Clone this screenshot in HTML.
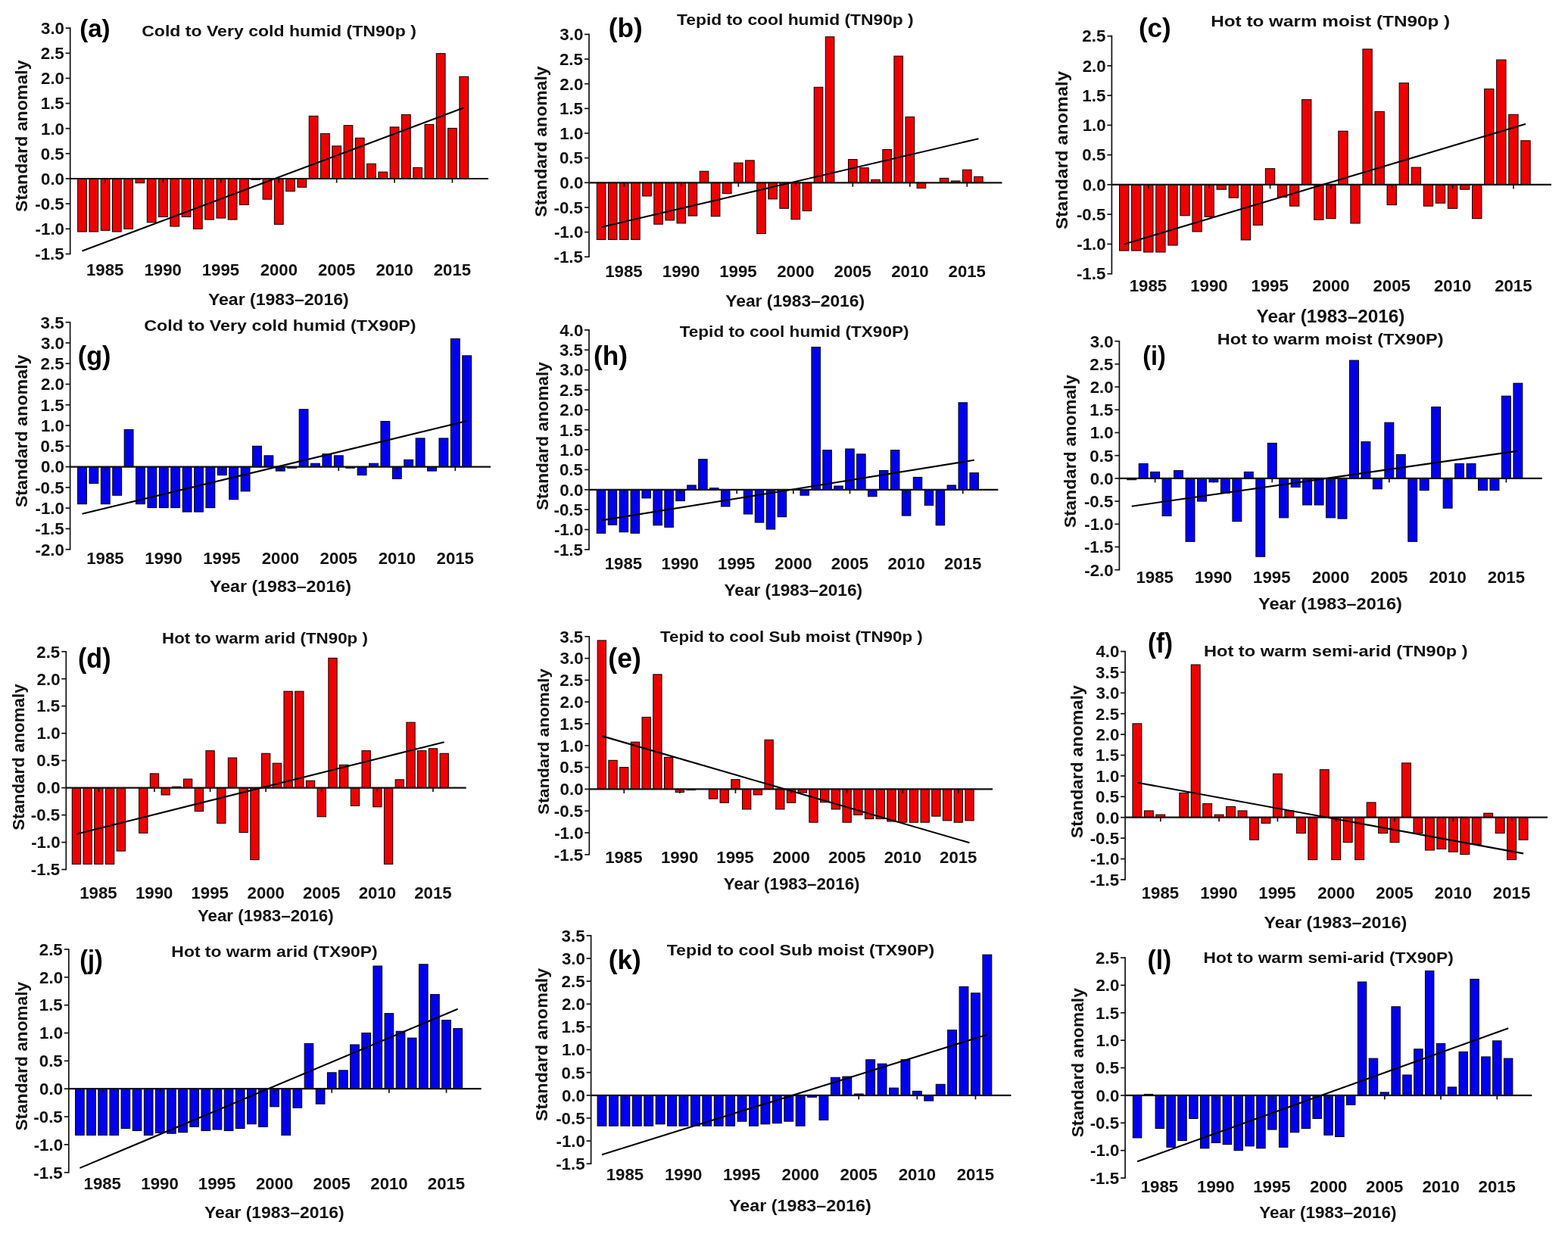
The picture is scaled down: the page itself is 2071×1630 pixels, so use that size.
<!DOCTYPE html>
<html><head><meta charset="utf-8"><title>Standard anomaly bar charts</title>
<style>html,body{margin:0;padding:0;background:#fff;overflow:hidden;}svg{display:block;}</style>
</head><body>
<svg width="2071" height="1630" viewBox="0 0 2071 1630" font-family="'Liberation Sans', Arial, sans-serif"><g fill="#ee0000" stroke="#1a0000" stroke-width="1.1"><rect x="102.66" y="236" width="11.69" height="70.01"/><rect x="117.94" y="236" width="11.69" height="70.01"/><rect x="133.22" y="236" width="11.69" height="68.29"/><rect x="148.5" y="236" width="11.69" height="70.01"/><rect x="163.78" y="236" width="11.69" height="66.3"/><rect x="179.06" y="236" width="11.69" height="5.64"/><rect x="194.34" y="236" width="11.69" height="57.68"/><rect x="209.62" y="236" width="11.69" height="50.39"/><rect x="224.9" y="236" width="11.69" height="62.99"/><rect x="240.18" y="236" width="11.69" height="50.39"/><rect x="255.46" y="236" width="11.69" height="66.3"/><rect x="270.74" y="236" width="11.69" height="54.03"/><rect x="286.02" y="236" width="11.69" height="52.05"/><rect x="301.3" y="236" width="11.69" height="54.03"/><rect x="316.58" y="236" width="11.69" height="34.48"/><rect x="331.86" y="236" width="11.69" height="1.33"/><rect x="347.14" y="236" width="11.69" height="27.18"/><rect x="362.42" y="236" width="11.69" height="60.33"/><rect x="377.7" y="236" width="11.69" height="16.57"/><rect x="392.98" y="236" width="11.69" height="11.27"/><rect x="408.26" y="153.32" width="11.69" height="82.68"/><rect x="423.54" y="176.6" width="11.69" height="59.4"/><rect x="438.82" y="192.91" width="11.69" height="43.09"/><rect x="454.1" y="165.72" width="11.69" height="70.28"/><rect x="469.38" y="182.3" width="11.69" height="53.7"/><rect x="484.66" y="216.38" width="11.69" height="19.62"/><rect x="499.94" y="227.18" width="11.69" height="8.82"/><rect x="515.22" y="167.91" width="11.69" height="68.09"/><rect x="530.5" y="151.53" width="11.69" height="84.47"/><rect x="545.78" y="221.41" width="11.69" height="14.59"/><rect x="561.06" y="164.4" width="11.69" height="71.6"/><rect x="576.34" y="70.71" width="11.69" height="165.29"/><rect x="591.62" y="169.43" width="11.69" height="66.57"/><rect x="606.9" y="101.21" width="11.69" height="134.79"/></g>
<g stroke="#111" stroke-width="1.7" fill="none"><line x1="92.7" y1="36.3" x2="92.7" y2="336.25"/><line x1="86.7" y1="37.1" x2="92.7" y2="37.1"/><line x1="86.7" y1="70.25" x2="92.7" y2="70.25"/><line x1="86.7" y1="103.4" x2="92.7" y2="103.4"/><line x1="86.7" y1="136.55" x2="92.7" y2="136.55"/><line x1="86.7" y1="169.7" x2="92.7" y2="169.7"/><line x1="86.7" y1="202.85" x2="92.7" y2="202.85"/><line x1="86.7" y1="236" x2="92.7" y2="236"/><line x1="86.7" y1="269.15" x2="92.7" y2="269.15"/><line x1="86.7" y1="302.3" x2="92.7" y2="302.3"/><line x1="86.7" y1="335.45" x2="92.7" y2="335.45"/><line x1="139.06" y1="236" x2="139.06" y2="241.5"/><line x1="215.46" y1="236" x2="215.46" y2="241.5"/><line x1="291.86" y1="236" x2="291.86" y2="241.5"/><line x1="368.26" y1="236" x2="368.26" y2="241.5"/><line x1="444.66" y1="236" x2="444.66" y2="241.5"/><line x1="521.06" y1="236" x2="521.06" y2="241.5"/><line x1="597.46" y1="236" x2="597.46" y2="241.5"/></g>
<line x1="92.7" y1="236" x2="645" y2="236" stroke="#111" stroke-width="2.2"/>
<line x1="108.5" y1="331.47" x2="612.74" y2="142.19" stroke="#000" stroke-width="2.1"/>
<g font-weight="bold" fill="#111"><text x="54" y="44.94" font-size="22.3" textLength="31" lengthAdjust="spacingAndGlyphs">3.0</text><text x="53.66" y="78.09" font-size="22.3" textLength="31" lengthAdjust="spacingAndGlyphs">2.5</text><text x="54" y="111.24" font-size="22.3" textLength="31" lengthAdjust="spacingAndGlyphs">2.0</text><text x="53.66" y="144.39" font-size="22.3" textLength="31" lengthAdjust="spacingAndGlyphs">1.5</text><text x="54" y="177.54" font-size="22.3" textLength="31" lengthAdjust="spacingAndGlyphs">1.0</text><text x="53.66" y="210.69" font-size="22.3" textLength="31" lengthAdjust="spacingAndGlyphs">0.5</text><text x="54" y="243.84" font-size="22.3" textLength="31" lengthAdjust="spacingAndGlyphs">0.0</text><text x="46.23" y="276.99" font-size="22.3" textLength="38.43" lengthAdjust="spacingAndGlyphs">-0.5</text><text x="46.58" y="310.14" font-size="22.3" textLength="38.43" lengthAdjust="spacingAndGlyphs">-1.0</text><text x="46.23" y="343.29" font-size="22.3" textLength="38.43" lengthAdjust="spacingAndGlyphs">-1.5</text><text x="113.95" y="364.1" font-size="22.2" textLength="49.39" lengthAdjust="spacingAndGlyphs">1985</text><text x="190.52" y="364.1" font-size="22.2" textLength="49.39" lengthAdjust="spacingAndGlyphs">1990</text><text x="266.75" y="364.1" font-size="22.2" textLength="49.39" lengthAdjust="spacingAndGlyphs">1995</text><text x="343.67" y="364.1" font-size="22.2" textLength="49.39" lengthAdjust="spacingAndGlyphs">2000</text><text x="419.9" y="364.1" font-size="22.2" textLength="49.39" lengthAdjust="spacingAndGlyphs">2005</text><text x="496.47" y="364.1" font-size="22.2" textLength="49.39" lengthAdjust="spacingAndGlyphs">2010</text><text x="572.7" y="364.1" font-size="22.2" textLength="49.39" lengthAdjust="spacingAndGlyphs">2015</text><text x="274.94" y="403.2" font-size="22.1" textLength="185.79" lengthAdjust="spacingAndGlyphs">Year (1983–2016)</text><text x="187.18" y="47.6" font-size="20.8" textLength="362.65" lengthAdjust="spacingAndGlyphs">Cold to Very cold humid (TN90p )</text><text x="105.15" y="48.9" font-size="33.36" textLength="40.45" lengthAdjust="spacingAndGlyphs" fill="#000">(a)</text></g>
<text transform="translate(36.3 279.96) rotate(-90)" x="0" y="0" font-size="21.92" font-weight="bold" fill="#111" textLength="200.51" lengthAdjust="spacingAndGlyphs">Standard anomaly</text>
<g fill="#ee0000" stroke="#1a0000" stroke-width="1.1"><rect x="788.32" y="241.3" width="11.55" height="75.09"/><rect x="803.42" y="241.3" width="11.55" height="75.09"/><rect x="818.52" y="241.3" width="11.55" height="75.09"/><rect x="833.62" y="241.3" width="11.55" height="75.09"/><rect x="848.72" y="241.3" width="11.55" height="17.63"/><rect x="863.82" y="241.3" width="11.55" height="54.85"/><rect x="878.92" y="241.3" width="11.55" height="49.63"/><rect x="894.02" y="241.3" width="11.55" height="53.55"/><rect x="909.12" y="241.3" width="11.55" height="43.75"/><rect x="924.22" y="226.28" width="11.55" height="15.02"/><rect x="939.32" y="241.3" width="11.55" height="44.4"/><rect x="954.42" y="241.3" width="11.55" height="14.37"/><rect x="969.52" y="215.18" width="11.55" height="26.12"/><rect x="984.62" y="211.92" width="11.55" height="29.38"/><rect x="999.72" y="241.3" width="11.55" height="67.26"/><rect x="1014.82" y="241.3" width="11.55" height="21.55"/><rect x="1029.92" y="241.3" width="11.55" height="33.96"/><rect x="1045.02" y="241.3" width="11.55" height="48.32"/><rect x="1060.12" y="241.3" width="11.55" height="37.22"/><rect x="1075.22" y="115.27" width="11.55" height="126.03"/><rect x="1090.32" y="48.67" width="11.55" height="192.63"/><rect x="1120.52" y="210.61" width="11.55" height="30.69"/><rect x="1135.62" y="221.71" width="11.55" height="19.59"/><rect x="1150.72" y="237.38" width="11.55" height="3.92"/><rect x="1165.82" y="197.55" width="11.55" height="43.75"/><rect x="1180.92" y="74.13" width="11.55" height="167.17"/><rect x="1196.02" y="154.45" width="11.55" height="86.85"/><rect x="1211.12" y="241.3" width="11.55" height="7.18"/><rect x="1241.32" y="235.42" width="11.55" height="5.88"/><rect x="1256.42" y="239.01" width="11.55" height="2.29"/><rect x="1271.52" y="224.32" width="11.55" height="16.98"/><rect x="1286.62" y="233.46" width="11.55" height="7.84"/></g>
<g stroke="#111" stroke-width="1.7" fill="none"><line x1="778" y1="44.6" x2="778" y2="340.05"/><line x1="772" y1="45.4" x2="778" y2="45.4"/><line x1="772" y1="78.05" x2="778" y2="78.05"/><line x1="772" y1="110.7" x2="778" y2="110.7"/><line x1="772" y1="143.35" x2="778" y2="143.35"/><line x1="772" y1="176" x2="778" y2="176"/><line x1="772" y1="208.65" x2="778" y2="208.65"/><line x1="772" y1="241.3" x2="778" y2="241.3"/><line x1="772" y1="273.95" x2="778" y2="273.95"/><line x1="772" y1="306.6" x2="778" y2="306.6"/><line x1="772" y1="339.25" x2="778" y2="339.25"/><line x1="824.3" y1="241.3" x2="824.3" y2="246.8"/><line x1="899.8" y1="241.3" x2="899.8" y2="246.8"/><line x1="975.3" y1="241.3" x2="975.3" y2="246.8"/><line x1="1050.8" y1="241.3" x2="1050.8" y2="246.8"/><line x1="1126.3" y1="241.3" x2="1126.3" y2="246.8"/><line x1="1201.8" y1="241.3" x2="1201.8" y2="246.8"/><line x1="1277.3" y1="241.3" x2="1277.3" y2="246.8"/></g>
<line x1="778" y1="241.3" x2="1323.5" y2="241.3" stroke="#111" stroke-width="2.2"/>
<line x1="794.1" y1="300.07" x2="1292.4" y2="183.18" stroke="#000" stroke-width="2.1"/>
<g font-weight="bold" fill="#111"><text x="739.3" y="53.24" font-size="22.3" textLength="31" lengthAdjust="spacingAndGlyphs">3.0</text><text x="738.96" y="85.89" font-size="22.3" textLength="31" lengthAdjust="spacingAndGlyphs">2.5</text><text x="739.3" y="118.54" font-size="22.3" textLength="31" lengthAdjust="spacingAndGlyphs">2.0</text><text x="738.96" y="151.19" font-size="22.3" textLength="31" lengthAdjust="spacingAndGlyphs">1.5</text><text x="739.3" y="183.84" font-size="22.3" textLength="31" lengthAdjust="spacingAndGlyphs">1.0</text><text x="738.96" y="216.49" font-size="22.3" textLength="31" lengthAdjust="spacingAndGlyphs">0.5</text><text x="739.3" y="249.14" font-size="22.3" textLength="31" lengthAdjust="spacingAndGlyphs">0.0</text><text x="731.53" y="281.79" font-size="22.3" textLength="38.43" lengthAdjust="spacingAndGlyphs">-0.5</text><text x="731.88" y="314.44" font-size="22.3" textLength="38.43" lengthAdjust="spacingAndGlyphs">-1.0</text><text x="731.53" y="347.09" font-size="22.3" textLength="38.43" lengthAdjust="spacingAndGlyphs">-1.5</text><text x="799.19" y="365.6" font-size="22.2" textLength="49.39" lengthAdjust="spacingAndGlyphs">1985</text><text x="874.86" y="365.6" font-size="22.2" textLength="49.39" lengthAdjust="spacingAndGlyphs">1990</text><text x="950.19" y="365.6" font-size="22.2" textLength="49.39" lengthAdjust="spacingAndGlyphs">1995</text><text x="1026.21" y="365.6" font-size="22.2" textLength="49.39" lengthAdjust="spacingAndGlyphs">2000</text><text x="1101.54" y="365.6" font-size="22.2" textLength="49.39" lengthAdjust="spacingAndGlyphs">2005</text><text x="1177.21" y="365.6" font-size="22.2" textLength="49.39" lengthAdjust="spacingAndGlyphs">2010</text><text x="1252.54" y="365.6" font-size="22.2" textLength="49.39" lengthAdjust="spacingAndGlyphs">2015</text><text x="958.34" y="404.8" font-size="21.85" textLength="183.68" lengthAdjust="spacingAndGlyphs">Year (1983–2016)</text><text x="894" y="33.2" font-size="20.8" textLength="312.72" lengthAdjust="spacingAndGlyphs">Tepid to cool humid (TN90p )</text><text x="803.75" y="49.03" font-size="34.62" textLength="44.92" lengthAdjust="spacingAndGlyphs" fill="#000">(b)</text></g>
<text transform="translate(722.4 286.66) rotate(-90)" x="0" y="0" font-size="21.78" font-weight="bold" fill="#111" textLength="199.21" lengthAdjust="spacingAndGlyphs">Standard anomaly</text>
<g fill="#ee0000" stroke="#1a0000" stroke-width="1.1"><rect x="1478.55" y="243.9" width="12.29" height="87.14"/><rect x="1494.62" y="243.9" width="12.29" height="87.14"/><rect x="1510.69" y="243.9" width="12.29" height="89.1"/><rect x="1526.76" y="243.9" width="12.29" height="89.1"/><rect x="1542.83" y="243.9" width="12.29" height="80.07"/><rect x="1558.9" y="243.9" width="12.29" height="40.82"/><rect x="1574.97" y="243.9" width="12.29" height="62.02"/><rect x="1591.04" y="243.9" width="12.29" height="42.39"/><rect x="1607.11" y="243.9" width="12.29" height="6.28"/><rect x="1623.18" y="243.9" width="12.29" height="17.27"/><rect x="1639.25" y="243.9" width="12.29" height="73.01"/><rect x="1655.32" y="243.9" width="12.29" height="53.38"/><rect x="1671.39" y="222.71" width="12.29" height="21.19"/><rect x="1687.46" y="243.9" width="12.29" height="16.48"/><rect x="1703.53" y="243.9" width="12.29" height="28.26"/><rect x="1719.6" y="131.65" width="12.29" height="112.25"/><rect x="1735.67" y="243.9" width="12.29" height="46.32"/><rect x="1751.74" y="243.9" width="12.29" height="44.74"/><rect x="1767.81" y="173.25" width="12.29" height="70.65"/><rect x="1783.88" y="243.9" width="12.29" height="51.03"/><rect x="1799.95" y="64.92" width="12.29" height="178.98"/><rect x="1816.02" y="147.35" width="12.29" height="96.55"/><rect x="1832.09" y="243.9" width="12.29" height="26.69"/><rect x="1848.16" y="109.67" width="12.29" height="134.23"/><rect x="1864.23" y="221.14" width="12.29" height="22.76"/><rect x="1880.3" y="243.9" width="12.29" height="28.26"/><rect x="1896.37" y="243.9" width="12.29" height="24.34"/><rect x="1912.44" y="243.9" width="12.29" height="31.4"/><rect x="1928.51" y="243.9" width="12.29" height="6.28"/><rect x="1944.58" y="243.9" width="12.29" height="44.74"/><rect x="1960.65" y="117.52" width="12.29" height="126.39"/><rect x="1976.72" y="79.05" width="12.29" height="164.85"/><rect x="1992.79" y="151.27" width="12.29" height="92.63"/><rect x="2008.86" y="185.81" width="12.29" height="58.09"/></g>
<g stroke="#111" stroke-width="1.7" fill="none"><line x1="1468.4" y1="46.85" x2="1468.4" y2="362.45"/><line x1="1462.4" y1="47.65" x2="1468.4" y2="47.65"/><line x1="1462.4" y1="86.9" x2="1468.4" y2="86.9"/><line x1="1462.4" y1="126.15" x2="1468.4" y2="126.15"/><line x1="1462.4" y1="165.4" x2="1468.4" y2="165.4"/><line x1="1462.4" y1="204.65" x2="1468.4" y2="204.65"/><line x1="1462.4" y1="243.9" x2="1468.4" y2="243.9"/><line x1="1462.4" y1="283.15" x2="1468.4" y2="283.15"/><line x1="1462.4" y1="322.4" x2="1468.4" y2="322.4"/><line x1="1462.4" y1="361.65" x2="1468.4" y2="361.65"/><line x1="1516.84" y1="243.9" x2="1516.84" y2="249.4"/><line x1="1597.19" y1="243.9" x2="1597.19" y2="249.4"/><line x1="1677.54" y1="243.9" x2="1677.54" y2="249.4"/><line x1="1757.89" y1="243.9" x2="1757.89" y2="249.4"/><line x1="1838.24" y1="243.9" x2="1838.24" y2="249.4"/><line x1="1918.59" y1="243.9" x2="1918.59" y2="249.4"/><line x1="1998.94" y1="243.9" x2="1998.94" y2="249.4"/></g>
<line x1="1468.4" y1="243.9" x2="2049" y2="243.9" stroke="#111" stroke-width="2.2"/>
<line x1="1484.7" y1="322.4" x2="2015.01" y2="163.83" stroke="#000" stroke-width="2.1"/>
<g font-weight="bold" fill="#111"><text x="1429.36" y="55.49" font-size="22.3" textLength="31" lengthAdjust="spacingAndGlyphs">2.5</text><text x="1429.7" y="94.74" font-size="22.3" textLength="31" lengthAdjust="spacingAndGlyphs">2.0</text><text x="1429.36" y="133.99" font-size="22.3" textLength="31" lengthAdjust="spacingAndGlyphs">1.5</text><text x="1429.7" y="173.24" font-size="22.3" textLength="31" lengthAdjust="spacingAndGlyphs">1.0</text><text x="1429.36" y="212.49" font-size="22.3" textLength="31" lengthAdjust="spacingAndGlyphs">0.5</text><text x="1429.7" y="251.74" font-size="22.3" textLength="31" lengthAdjust="spacingAndGlyphs">0.0</text><text x="1421.93" y="290.99" font-size="22.3" textLength="38.43" lengthAdjust="spacingAndGlyphs">-0.5</text><text x="1422.28" y="330.24" font-size="22.3" textLength="38.43" lengthAdjust="spacingAndGlyphs">-1.0</text><text x="1421.93" y="369.49" font-size="22.3" textLength="38.43" lengthAdjust="spacingAndGlyphs">-1.5</text><text x="1491.73" y="385.4" font-size="22.2" textLength="49.39" lengthAdjust="spacingAndGlyphs">1985</text><text x="1572.25" y="385.4" font-size="22.2" textLength="49.39" lengthAdjust="spacingAndGlyphs">1990</text><text x="1652.43" y="385.4" font-size="22.2" textLength="49.39" lengthAdjust="spacingAndGlyphs">1995</text><text x="1733.3" y="385.4" font-size="22.2" textLength="49.39" lengthAdjust="spacingAndGlyphs">2000</text><text x="1813.48" y="385.4" font-size="22.2" textLength="49.39" lengthAdjust="spacingAndGlyphs">2005</text><text x="1894" y="385.4" font-size="22.2" textLength="49.39" lengthAdjust="spacingAndGlyphs">2010</text><text x="1974.18" y="385.4" font-size="22.2" textLength="49.39" lengthAdjust="spacingAndGlyphs">2015</text><text x="1659.62" y="426.4" font-size="23.28" textLength="195.76" lengthAdjust="spacingAndGlyphs">Year (1983–2016)</text><text x="1599.18" y="35" font-size="20.8" textLength="316" lengthAdjust="spacingAndGlyphs">Hot to warm moist (TN90p )</text><text x="1503.96" y="49.03" font-size="34.62" textLength="42.81" lengthAdjust="spacingAndGlyphs" fill="#000">(c)</text></g>
<text transform="translate(1409.51 303.08) rotate(-90)" x="0" y="0" font-size="22.89" font-weight="bold" fill="#111" textLength="209.32" lengthAdjust="spacingAndGlyphs">Standard anomaly</text>
<g fill="#0000ee" stroke="#00001a" stroke-width="1.1"><rect x="102.61" y="616.6" width="11.78" height="49.1"/><rect x="118.01" y="616.6" width="11.78" height="21.82"/><rect x="133.41" y="616.6" width="11.78" height="49.1"/><rect x="148.81" y="616.6" width="11.78" height="37.64"/><rect x="164.21" y="567.5" width="11.78" height="49.1"/><rect x="179.61" y="616.6" width="11.78" height="49.1"/><rect x="195.01" y="616.6" width="11.78" height="54"/><rect x="210.41" y="616.6" width="11.78" height="54"/><rect x="225.81" y="616.6" width="11.78" height="54"/><rect x="241.21" y="616.6" width="11.78" height="59.46"/><rect x="256.61" y="616.6" width="11.78" height="59.46"/><rect x="272.01" y="616.6" width="11.78" height="54"/><rect x="287.41" y="616.6" width="11.78" height="10.91"/><rect x="302.81" y="616.6" width="11.78" height="43.09"/><rect x="318.21" y="616.6" width="11.78" height="32.18"/><rect x="333.61" y="589.33" width="11.78" height="27.27"/><rect x="349.01" y="601.87" width="11.78" height="14.73"/><rect x="364.41" y="616.6" width="11.78" height="5.46"/><rect x="379.81" y="616.6" width="11.78" height="1.64"/><rect x="395.21" y="540.78" width="11.78" height="75.82"/><rect x="410.61" y="612.24" width="11.78" height="4.36"/><rect x="426.01" y="599.69" width="11.78" height="16.91"/><rect x="441.41" y="601.87" width="11.78" height="14.73"/><rect x="456.81" y="616.6" width="11.78" height="1.64"/><rect x="472.21" y="616.6" width="11.78" height="10.91"/><rect x="487.61" y="612.24" width="11.78" height="4.36"/><rect x="503.01" y="556.6" width="11.78" height="60"/><rect x="518.41" y="616.6" width="11.78" height="15.82"/><rect x="533.81" y="607.33" width="11.78" height="9.27"/><rect x="549.21" y="578.96" width="11.78" height="37.64"/><rect x="564.61" y="616.6" width="11.78" height="5.46"/><rect x="580.01" y="578.96" width="11.78" height="37.64"/><rect x="595.41" y="447.5" width="11.78" height="169.11"/><rect x="610.81" y="469.86" width="11.78" height="146.74"/></g>
<g stroke="#111" stroke-width="1.7" fill="none"><line x1="92.6" y1="424.88" x2="92.6" y2="726.5"/><line x1="86.6" y1="425.68" x2="92.6" y2="425.68"/><line x1="86.6" y1="452.95" x2="92.6" y2="452.95"/><line x1="86.6" y1="480.23" x2="92.6" y2="480.23"/><line x1="86.6" y1="507.5" x2="92.6" y2="507.5"/><line x1="86.6" y1="534.78" x2="92.6" y2="534.78"/><line x1="86.6" y1="562.05" x2="92.6" y2="562.05"/><line x1="86.6" y1="589.33" x2="92.6" y2="589.33"/><line x1="86.6" y1="616.6" x2="92.6" y2="616.6"/><line x1="86.6" y1="643.88" x2="92.6" y2="643.88"/><line x1="86.6" y1="671.15" x2="92.6" y2="671.15"/><line x1="86.6" y1="698.42" x2="92.6" y2="698.42"/><line x1="86.6" y1="725.7" x2="92.6" y2="725.7"/><line x1="139.3" y1="616.6" x2="139.3" y2="622.1"/><line x1="216.3" y1="616.6" x2="216.3" y2="622.1"/><line x1="293.3" y1="616.6" x2="293.3" y2="622.1"/><line x1="370.3" y1="616.6" x2="370.3" y2="622.1"/><line x1="447.3" y1="616.6" x2="447.3" y2="622.1"/><line x1="524.3" y1="616.6" x2="524.3" y2="622.1"/><line x1="601.3" y1="616.6" x2="601.3" y2="622.1"/></g>
<line x1="92.6" y1="616.6" x2="648" y2="616.6" stroke="#111" stroke-width="2.2"/>
<line x1="108.5" y1="678.79" x2="616.7" y2="556.05" stroke="#000" stroke-width="2.1"/>
<g font-weight="bold" fill="#111"><text x="53.56" y="433.51" font-size="22.3" textLength="31" lengthAdjust="spacingAndGlyphs">3.5</text><text x="53.9" y="460.79" font-size="22.3" textLength="31" lengthAdjust="spacingAndGlyphs">3.0</text><text x="53.56" y="488.06" font-size="22.3" textLength="31" lengthAdjust="spacingAndGlyphs">2.5</text><text x="53.9" y="515.34" font-size="22.3" textLength="31" lengthAdjust="spacingAndGlyphs">2.0</text><text x="53.56" y="542.61" font-size="22.3" textLength="31" lengthAdjust="spacingAndGlyphs">1.5</text><text x="53.9" y="569.89" font-size="22.3" textLength="31" lengthAdjust="spacingAndGlyphs">1.0</text><text x="53.56" y="597.16" font-size="22.3" textLength="31" lengthAdjust="spacingAndGlyphs">0.5</text><text x="53.9" y="624.44" font-size="22.3" textLength="31" lengthAdjust="spacingAndGlyphs">0.0</text><text x="46.13" y="651.71" font-size="22.3" textLength="38.43" lengthAdjust="spacingAndGlyphs">-0.5</text><text x="46.48" y="678.99" font-size="22.3" textLength="38.43" lengthAdjust="spacingAndGlyphs">-1.0</text><text x="46.13" y="706.26" font-size="22.3" textLength="38.43" lengthAdjust="spacingAndGlyphs">-1.5</text><text x="46.48" y="733.54" font-size="22.3" textLength="38.43" lengthAdjust="spacingAndGlyphs">-2.0</text><text x="114.19" y="744.8" font-size="22.2" textLength="49.39" lengthAdjust="spacingAndGlyphs">1985</text><text x="191.36" y="744.8" font-size="22.2" textLength="49.39" lengthAdjust="spacingAndGlyphs">1990</text><text x="268.19" y="744.8" font-size="22.2" textLength="49.39" lengthAdjust="spacingAndGlyphs">1995</text><text x="345.71" y="744.8" font-size="22.2" textLength="49.39" lengthAdjust="spacingAndGlyphs">2000</text><text x="422.54" y="744.8" font-size="22.2" textLength="49.39" lengthAdjust="spacingAndGlyphs">2005</text><text x="499.71" y="744.8" font-size="22.2" textLength="49.39" lengthAdjust="spacingAndGlyphs">2010</text><text x="576.54" y="744.8" font-size="22.2" textLength="49.39" lengthAdjust="spacingAndGlyphs">2015</text><text x="276.94" y="781.8" font-size="22.24" textLength="187" lengthAdjust="spacingAndGlyphs">Year (1983–2016)</text><text x="190.27" y="437.2" font-size="20.8" textLength="359.37" lengthAdjust="spacingAndGlyphs">Cold to Very cold humid (TX90P)</text><text x="102.79" y="481.73" font-size="34.62" textLength="43.74" lengthAdjust="spacingAndGlyphs" fill="#000">(g)</text></g>
<text transform="translate(36.41 670.26) rotate(-90)" x="0" y="0" font-size="22.07" font-weight="bold" fill="#111" textLength="201.82" lengthAdjust="spacingAndGlyphs">Standard anomaly</text>
<g fill="#0000ee" stroke="#00001a" stroke-width="1.1"><rect x="788.29" y="646.8" width="11.42" height="57.48"/><rect x="803.22" y="646.8" width="11.42" height="46.4"/><rect x="818.15" y="646.8" width="11.42" height="55.89"/><rect x="833.08" y="646.8" width="11.42" height="57.48"/><rect x="848.01" y="646.8" width="11.42" height="11.07"/><rect x="862.94" y="646.8" width="11.42" height="46.93"/><rect x="877.87" y="646.8" width="11.42" height="49.57"/><rect x="892.8" y="646.8" width="11.42" height="14.76"/><rect x="907.73" y="641" width="11.42" height="5.8"/><rect x="922.66" y="606.73" width="11.42" height="40.07"/><rect x="937.59" y="644.69" width="11.42" height="2.11"/><rect x="952.52" y="646.8" width="11.42" height="22.15"/><rect x="982.38" y="646.8" width="11.42" height="32.17"/><rect x="997.31" y="646.8" width="11.42" height="43.24"/><rect x="1012.24" y="646.8" width="11.42" height="52.2"/><rect x="1027.17" y="646.8" width="11.42" height="35.86"/><rect x="1057.03" y="646.8" width="11.42" height="7.38"/><rect x="1071.96" y="458.55" width="11.42" height="188.25"/><rect x="1086.89" y="594.6" width="11.42" height="52.2"/><rect x="1101.82" y="642.05" width="11.42" height="4.75"/><rect x="1116.75" y="593.02" width="11.42" height="53.78"/><rect x="1131.68" y="599.87" width="11.42" height="46.93"/><rect x="1146.61" y="646.8" width="11.42" height="8.96"/><rect x="1161.54" y="621.49" width="11.42" height="25.31"/><rect x="1176.47" y="594.6" width="11.42" height="52.2"/><rect x="1191.4" y="646.8" width="11.42" height="34.27"/><rect x="1206.33" y="630.45" width="11.42" height="16.35"/><rect x="1221.26" y="646.8" width="11.42" height="20.56"/><rect x="1236.19" y="646.8" width="11.42" height="46.93"/><rect x="1251.12" y="641" width="11.42" height="5.8"/><rect x="1266.05" y="531.85" width="11.42" height="114.95"/><rect x="1280.98" y="624.65" width="11.42" height="22.15"/></g>
<g stroke="#111" stroke-width="1.7" fill="none"><line x1="778" y1="435.08" x2="778" y2="726.69"/><line x1="772" y1="435.88" x2="778" y2="435.88"/><line x1="772" y1="462.25" x2="778" y2="462.25"/><line x1="772" y1="488.61" x2="778" y2="488.61"/><line x1="772" y1="514.97" x2="778" y2="514.97"/><line x1="772" y1="541.34" x2="778" y2="541.34"/><line x1="772" y1="567.7" x2="778" y2="567.7"/><line x1="772" y1="594.07" x2="778" y2="594.07"/><line x1="772" y1="620.43" x2="778" y2="620.43"/><line x1="772" y1="646.8" x2="778" y2="646.8"/><line x1="772" y1="673.16" x2="778" y2="673.16"/><line x1="772" y1="699.53" x2="778" y2="699.53"/><line x1="772" y1="725.89" x2="778" y2="725.89"/><line x1="823.86" y1="646.8" x2="823.86" y2="652.3"/><line x1="898.51" y1="646.8" x2="898.51" y2="652.3"/><line x1="973.16" y1="646.8" x2="973.16" y2="652.3"/><line x1="1047.81" y1="646.8" x2="1047.81" y2="652.3"/><line x1="1122.46" y1="646.8" x2="1122.46" y2="652.3"/><line x1="1197.11" y1="646.8" x2="1197.11" y2="652.3"/><line x1="1271.76" y1="646.8" x2="1271.76" y2="652.3"/></g>
<line x1="778" y1="646.8" x2="1318.3" y2="646.8" stroke="#111" stroke-width="2.2"/>
<line x1="794" y1="687.4" x2="1286.69" y2="607.78" stroke="#000" stroke-width="2.1"/>
<g font-weight="bold" fill="#111"><text x="739.3" y="443.72" font-size="22.3" textLength="31" lengthAdjust="spacingAndGlyphs">4.0</text><text x="738.96" y="470.08" font-size="22.3" textLength="31" lengthAdjust="spacingAndGlyphs">3.5</text><text x="739.3" y="496.45" font-size="22.3" textLength="31" lengthAdjust="spacingAndGlyphs">3.0</text><text x="738.96" y="522.81" font-size="22.3" textLength="31" lengthAdjust="spacingAndGlyphs">2.5</text><text x="739.3" y="549.18" font-size="22.3" textLength="31" lengthAdjust="spacingAndGlyphs">2.0</text><text x="738.96" y="575.54" font-size="22.3" textLength="31" lengthAdjust="spacingAndGlyphs">1.5</text><text x="739.3" y="601.91" font-size="22.3" textLength="31" lengthAdjust="spacingAndGlyphs">1.0</text><text x="738.96" y="628.27" font-size="22.3" textLength="31" lengthAdjust="spacingAndGlyphs">0.5</text><text x="739.3" y="654.64" font-size="22.3" textLength="31" lengthAdjust="spacingAndGlyphs">0.0</text><text x="731.53" y="681" font-size="22.3" textLength="38.43" lengthAdjust="spacingAndGlyphs">-0.5</text><text x="731.88" y="707.37" font-size="22.3" textLength="38.43" lengthAdjust="spacingAndGlyphs">-1.0</text><text x="731.53" y="733.73" font-size="22.3" textLength="38.43" lengthAdjust="spacingAndGlyphs">-1.5</text><text x="798.75" y="752" font-size="22.2" textLength="49.39" lengthAdjust="spacingAndGlyphs">1985</text><text x="873.57" y="752" font-size="22.2" textLength="49.39" lengthAdjust="spacingAndGlyphs">1990</text><text x="948.05" y="752" font-size="22.2" textLength="49.39" lengthAdjust="spacingAndGlyphs">1995</text><text x="1023.22" y="752" font-size="22.2" textLength="49.39" lengthAdjust="spacingAndGlyphs">2000</text><text x="1097.7" y="752" font-size="22.2" textLength="49.39" lengthAdjust="spacingAndGlyphs">2005</text><text x="1172.52" y="752" font-size="22.2" textLength="49.39" lengthAdjust="spacingAndGlyphs">2010</text><text x="1247" y="752" font-size="22.2" textLength="49.39" lengthAdjust="spacingAndGlyphs">2015</text><text x="956.45" y="787.3" font-size="21.73" textLength="182.67" lengthAdjust="spacingAndGlyphs">Year (1983–2016)</text><text x="897.7" y="444.5" font-size="20.8" textLength="302.81" lengthAdjust="spacingAndGlyphs">Tepid to cool humid (TX90P)</text><text x="783.95" y="481.73" font-size="34.62" textLength="44.92" lengthAdjust="spacingAndGlyphs" fill="#000">(h)</text></g>
<text transform="translate(723.74 674.05) rotate(-90)" x="0" y="0" font-size="21.43" font-weight="bold" fill="#111" textLength="196.01" lengthAdjust="spacingAndGlyphs">Standard anomaly</text>
<g fill="#0000ee" stroke="#00001a" stroke-width="1.1"><rect x="1488.79" y="631.9" width="11.83" height="1.81"/><rect x="1504.25" y="612.57" width="11.83" height="19.33"/><rect x="1519.71" y="623.44" width="11.83" height="8.46"/><rect x="1535.17" y="631.9" width="11.83" height="49.53"/><rect x="1550.63" y="621.63" width="11.83" height="10.27"/><rect x="1566.09" y="631.9" width="11.83" height="83.35"/><rect x="1581.55" y="631.9" width="11.83" height="30.2"/><rect x="1597.01" y="631.9" width="11.83" height="4.83"/><rect x="1612.47" y="631.9" width="11.83" height="19.33"/><rect x="1627.93" y="631.9" width="11.83" height="56.78"/><rect x="1643.39" y="623.44" width="11.83" height="8.46"/><rect x="1658.85" y="631.9" width="11.83" height="103.28"/><rect x="1674.31" y="585.39" width="11.83" height="46.51"/><rect x="1689.77" y="631.9" width="11.83" height="51.94"/><rect x="1705.23" y="631.9" width="11.83" height="11.48"/><rect x="1720.69" y="631.9" width="11.83" height="35.03"/><rect x="1736.15" y="631.9" width="11.83" height="35.03"/><rect x="1751.61" y="631.9" width="11.83" height="51.94"/><rect x="1767.07" y="631.9" width="11.83" height="53.15"/><rect x="1782.53" y="476.07" width="11.83" height="155.83"/><rect x="1797.99" y="583.58" width="11.83" height="48.32"/><rect x="1813.45" y="631.9" width="11.83" height="13.89"/><rect x="1828.91" y="558.21" width="11.83" height="73.69"/><rect x="1844.37" y="600.49" width="11.83" height="31.41"/><rect x="1859.83" y="631.9" width="11.83" height="83.35"/><rect x="1875.29" y="631.9" width="11.83" height="15.7"/><rect x="1890.75" y="537.68" width="11.83" height="94.22"/><rect x="1906.21" y="631.9" width="11.83" height="39.26"/><rect x="1921.67" y="612.57" width="11.83" height="19.33"/><rect x="1937.13" y="612.57" width="11.83" height="19.33"/><rect x="1952.59" y="631.9" width="11.83" height="15.7"/><rect x="1968.05" y="631.9" width="11.83" height="15.7"/><rect x="1983.51" y="523.18" width="11.83" height="108.72"/><rect x="1998.97" y="506.27" width="11.83" height="125.63"/></g>
<g stroke="#111" stroke-width="1.7" fill="none"><line x1="1478.4" y1="449.9" x2="1478.4" y2="753.5"/><line x1="1472.4" y1="450.7" x2="1478.4" y2="450.7"/><line x1="1472.4" y1="480.9" x2="1478.4" y2="480.9"/><line x1="1472.4" y1="511.1" x2="1478.4" y2="511.1"/><line x1="1472.4" y1="541.3" x2="1478.4" y2="541.3"/><line x1="1472.4" y1="571.5" x2="1478.4" y2="571.5"/><line x1="1472.4" y1="601.7" x2="1478.4" y2="601.7"/><line x1="1472.4" y1="631.9" x2="1478.4" y2="631.9"/><line x1="1472.4" y1="662.1" x2="1478.4" y2="662.1"/><line x1="1472.4" y1="692.3" x2="1478.4" y2="692.3"/><line x1="1472.4" y1="722.5" x2="1478.4" y2="722.5"/><line x1="1472.4" y1="752.7" x2="1478.4" y2="752.7"/><line x1="1525.62" y1="631.9" x2="1525.62" y2="637.4"/><line x1="1602.92" y1="631.9" x2="1602.92" y2="637.4"/><line x1="1680.22" y1="631.9" x2="1680.22" y2="637.4"/><line x1="1757.52" y1="631.9" x2="1757.52" y2="637.4"/><line x1="1834.82" y1="631.9" x2="1834.82" y2="637.4"/><line x1="1912.12" y1="631.9" x2="1912.12" y2="637.4"/><line x1="1989.42" y1="631.9" x2="1989.42" y2="637.4"/></g>
<line x1="1478.4" y1="631.9" x2="2036.7" y2="631.9" stroke="#111" stroke-width="2.2"/>
<line x1="1494.7" y1="668.74" x2="2004.88" y2="595.66" stroke="#000" stroke-width="2.1"/>
<g font-weight="bold" fill="#111"><text x="1439.7" y="458.54" font-size="22.3" textLength="31" lengthAdjust="spacingAndGlyphs">3.0</text><text x="1439.36" y="488.74" font-size="22.3" textLength="31" lengthAdjust="spacingAndGlyphs">2.5</text><text x="1439.7" y="518.94" font-size="22.3" textLength="31" lengthAdjust="spacingAndGlyphs">2.0</text><text x="1439.36" y="549.14" font-size="22.3" textLength="31" lengthAdjust="spacingAndGlyphs">1.5</text><text x="1439.7" y="579.34" font-size="22.3" textLength="31" lengthAdjust="spacingAndGlyphs">1.0</text><text x="1439.36" y="609.54" font-size="22.3" textLength="31" lengthAdjust="spacingAndGlyphs">0.5</text><text x="1439.7" y="639.74" font-size="22.3" textLength="31" lengthAdjust="spacingAndGlyphs">0.0</text><text x="1431.93" y="669.94" font-size="22.3" textLength="38.43" lengthAdjust="spacingAndGlyphs">-0.5</text><text x="1432.28" y="700.14" font-size="22.3" textLength="38.43" lengthAdjust="spacingAndGlyphs">-1.0</text><text x="1431.93" y="730.34" font-size="22.3" textLength="38.43" lengthAdjust="spacingAndGlyphs">-1.5</text><text x="1432.28" y="760.54" font-size="22.3" textLength="38.43" lengthAdjust="spacingAndGlyphs">-2.0</text><text x="1500.51" y="769.7" font-size="22.2" textLength="49.39" lengthAdjust="spacingAndGlyphs">1985</text><text x="1577.98" y="769.7" font-size="22.2" textLength="49.39" lengthAdjust="spacingAndGlyphs">1990</text><text x="1655.11" y="769.7" font-size="22.2" textLength="49.39" lengthAdjust="spacingAndGlyphs">1995</text><text x="1732.93" y="769.7" font-size="22.2" textLength="49.39" lengthAdjust="spacingAndGlyphs">2000</text><text x="1810.06" y="769.7" font-size="22.2" textLength="49.39" lengthAdjust="spacingAndGlyphs">2005</text><text x="1887.53" y="769.7" font-size="22.2" textLength="49.39" lengthAdjust="spacingAndGlyphs">2010</text><text x="1964.66" y="769.7" font-size="22.2" textLength="49.39" lengthAdjust="spacingAndGlyphs">2015</text><text x="1662.03" y="805.4" font-size="22.58" textLength="189.82" lengthAdjust="spacingAndGlyphs">Year (1983–2016)</text><text x="1607.83" y="455.2" font-size="20.8" textLength="298.72" lengthAdjust="spacingAndGlyphs">Hot to warm moist (TX90P)</text><text x="1509.28" y="481.73" font-size="34.62" textLength="30.59" lengthAdjust="spacingAndGlyphs" fill="#000">(i)</text></g>
<text transform="translate(1421.44 697.36) rotate(-90)" x="0" y="0" font-size="22.11" font-weight="bold" fill="#111" textLength="202.22" lengthAdjust="spacingAndGlyphs">Standard anomaly</text>
<g fill="#ee0000" stroke="#1a0000" stroke-width="1.1"><rect x="95.3" y="1040.6" width="11.26" height="100.76"/><rect x="110.02" y="1040.6" width="11.26" height="100.76"/><rect x="124.74" y="1040.6" width="11.26" height="100.76"/><rect x="139.46" y="1040.6" width="11.26" height="100.76"/><rect x="154.18" y="1040.6" width="11.26" height="83.49"/><rect x="183.62" y="1040.6" width="11.26" height="59.74"/><rect x="198.34" y="1021.89" width="11.26" height="18.71"/><rect x="213.06" y="1040.6" width="11.26" height="9.36"/><rect x="227.78" y="1039.16" width="11.26" height="1.44"/><rect x="242.5" y="1029.08" width="11.26" height="11.52"/><rect x="257.22" y="1040.6" width="11.26" height="30.95"/><rect x="271.94" y="991.66" width="11.26" height="48.94"/><rect x="286.66" y="1040.6" width="11.26" height="46.78"/><rect x="301.38" y="1001.02" width="11.26" height="39.58"/><rect x="316.1" y="1040.6" width="11.26" height="59.02"/><rect x="330.82" y="1040.6" width="11.26" height="95"/><rect x="345.54" y="995.26" width="11.26" height="45.34"/><rect x="360.26" y="1008.21" width="11.26" height="32.39"/><rect x="374.98" y="913.21" width="11.26" height="127.39"/><rect x="389.7" y="913.21" width="11.26" height="127.39"/><rect x="404.42" y="1031.24" width="11.26" height="9.36"/><rect x="419.14" y="1040.6" width="11.26" height="38.14"/><rect x="433.86" y="869.31" width="11.26" height="171.29"/><rect x="448.58" y="1010.37" width="11.26" height="30.23"/><rect x="463.3" y="1040.6" width="11.26" height="23.75"/><rect x="478.02" y="991.66" width="11.26" height="48.94"/><rect x="492.74" y="1040.6" width="11.26" height="25.19"/><rect x="507.46" y="1040.6" width="11.26" height="100.76"/><rect x="522.18" y="1029.8" width="11.26" height="10.8"/><rect x="536.9" y="954.24" width="11.26" height="86.36"/><rect x="551.62" y="991.66" width="11.26" height="48.94"/><rect x="566.34" y="988.78" width="11.26" height="51.82"/><rect x="581.06" y="995.26" width="11.26" height="45.34"/></g>
<g stroke="#111" stroke-width="1.7" fill="none"><line x1="87.3" y1="859.88" x2="87.3" y2="1149.35"/><line x1="81.3" y1="860.67" x2="87.3" y2="860.67"/><line x1="81.3" y1="896.66" x2="87.3" y2="896.66"/><line x1="81.3" y1="932.64" x2="87.3" y2="932.64"/><line x1="81.3" y1="968.63" x2="87.3" y2="968.63"/><line x1="81.3" y1="1004.61" x2="87.3" y2="1004.61"/><line x1="81.3" y1="1040.6" x2="87.3" y2="1040.6"/><line x1="81.3" y1="1076.58" x2="87.3" y2="1076.58"/><line x1="81.3" y1="1112.57" x2="87.3" y2="1112.57"/><line x1="81.3" y1="1148.55" x2="87.3" y2="1148.55"/><line x1="130.37" y1="1040.6" x2="130.37" y2="1046.1"/><line x1="203.97" y1="1040.6" x2="203.97" y2="1046.1"/><line x1="277.57" y1="1040.6" x2="277.57" y2="1046.1"/><line x1="351.17" y1="1040.6" x2="351.17" y2="1046.1"/><line x1="424.77" y1="1040.6" x2="424.77" y2="1046.1"/><line x1="498.37" y1="1040.6" x2="498.37" y2="1046.1"/><line x1="571.97" y1="1040.6" x2="571.97" y2="1046.1"/></g>
<line x1="87.3" y1="1040.6" x2="615.7" y2="1040.6" stroke="#111" stroke-width="2.2"/>
<line x1="100.93" y1="1101.77" x2="586.69" y2="980.15" stroke="#000" stroke-width="2.1"/>
<g font-weight="bold" fill="#111"><text x="48.26" y="868.51" font-size="22.3" textLength="31" lengthAdjust="spacingAndGlyphs">2.5</text><text x="48.6" y="904.5" font-size="22.3" textLength="31" lengthAdjust="spacingAndGlyphs">2.0</text><text x="48.26" y="940.48" font-size="22.3" textLength="31" lengthAdjust="spacingAndGlyphs">1.5</text><text x="48.6" y="976.47" font-size="22.3" textLength="31" lengthAdjust="spacingAndGlyphs">1.0</text><text x="48.26" y="1012.45" font-size="22.3" textLength="31" lengthAdjust="spacingAndGlyphs">0.5</text><text x="48.6" y="1048.44" font-size="22.3" textLength="31" lengthAdjust="spacingAndGlyphs">0.0</text><text x="40.83" y="1084.42" font-size="22.3" textLength="38.43" lengthAdjust="spacingAndGlyphs">-0.5</text><text x="41.18" y="1120.41" font-size="22.3" textLength="38.43" lengthAdjust="spacingAndGlyphs">-1.0</text><text x="40.83" y="1156.39" font-size="22.3" textLength="38.43" lengthAdjust="spacingAndGlyphs">-1.5</text><text x="105.26" y="1186.5" font-size="22.2" textLength="49.39" lengthAdjust="spacingAndGlyphs">1985</text><text x="179.03" y="1186.5" font-size="22.2" textLength="49.39" lengthAdjust="spacingAndGlyphs">1990</text><text x="252.46" y="1186.5" font-size="22.2" textLength="49.39" lengthAdjust="spacingAndGlyphs">1995</text><text x="326.58" y="1186.5" font-size="22.2" textLength="49.39" lengthAdjust="spacingAndGlyphs">2000</text><text x="400.01" y="1186.5" font-size="22.2" textLength="49.39" lengthAdjust="spacingAndGlyphs">2005</text><text x="473.78" y="1186.5" font-size="22.2" textLength="49.39" lengthAdjust="spacingAndGlyphs">2010</text><text x="547.21" y="1186.5" font-size="22.2" textLength="49.39" lengthAdjust="spacingAndGlyphs">2015</text><text x="260.95" y="1217.3" font-size="21.39" textLength="179.75" lengthAdjust="spacingAndGlyphs">Year (1983–2016)</text><text x="214.1" y="850" font-size="20.8" textLength="271.8" lengthAdjust="spacingAndGlyphs">Hot to warm arid (TN90p )</text><text x="103" y="882" font-size="37.04" textLength="43.53" lengthAdjust="spacingAndGlyphs" fill="#000">(d)</text></g>
<text transform="translate(32.43 1096.85) rotate(-90)" x="0" y="0" font-size="21.15" font-weight="bold" fill="#111" textLength="193.41" lengthAdjust="spacingAndGlyphs">Standard anomaly</text>
<g fill="#ee0000" stroke="#1a0000" stroke-width="1.1"><rect x="789.17" y="845.98" width="11.26" height="196.42"/><rect x="803.89" y="1004.38" width="11.26" height="38.02"/><rect x="818.61" y="1013.6" width="11.26" height="28.8"/><rect x="833.33" y="980.19" width="11.26" height="62.21"/><rect x="848.05" y="947.36" width="11.26" height="95.04"/><rect x="862.77" y="890.91" width="11.26" height="151.49"/><rect x="877.49" y="1000.35" width="11.26" height="42.05"/><rect x="892.21" y="1042.4" width="11.26" height="4.03"/><rect x="906.93" y="1042.4" width="11.26" height="1.15"/><rect x="936.37" y="1042.4" width="11.26" height="12.67"/><rect x="951.09" y="1042.4" width="11.26" height="17.86"/><rect x="965.81" y="1029.73" width="11.26" height="12.67"/><rect x="980.53" y="1042.4" width="11.26" height="26.5"/><rect x="995.25" y="1042.4" width="11.26" height="7.49"/><rect x="1009.97" y="977.31" width="11.26" height="65.09"/><rect x="1024.69" y="1042.4" width="11.26" height="26.5"/><rect x="1039.41" y="1042.4" width="11.26" height="17.86"/><rect x="1054.13" y="1042.4" width="11.26" height="4.61"/><rect x="1068.85" y="1042.4" width="11.26" height="43.78"/><rect x="1083.57" y="1042.4" width="11.26" height="17.28"/><rect x="1098.29" y="1042.4" width="11.26" height="26.5"/><rect x="1113.01" y="1042.4" width="11.26" height="43.78"/><rect x="1127.73" y="1042.4" width="11.26" height="33.98"/><rect x="1142.45" y="1042.4" width="11.26" height="39.17"/><rect x="1157.17" y="1042.4" width="11.26" height="39.17"/><rect x="1171.89" y="1042.4" width="11.26" height="42.62"/><rect x="1186.61" y="1042.4" width="11.26" height="43.78"/><rect x="1201.33" y="1042.4" width="11.26" height="43.78"/><rect x="1216.05" y="1042.4" width="11.26" height="43.78"/><rect x="1230.77" y="1042.4" width="11.26" height="35.71"/><rect x="1245.49" y="1042.4" width="11.26" height="41.47"/><rect x="1260.21" y="1042.4" width="11.26" height="43.78"/><rect x="1274.93" y="1042.4" width="11.26" height="41.47"/></g>
<g stroke="#111" stroke-width="1.7" fill="none"><line x1="778.3" y1="840" x2="778.3" y2="1129.6"/><line x1="772.3" y1="840.8" x2="778.3" y2="840.8"/><line x1="772.3" y1="869.6" x2="778.3" y2="869.6"/><line x1="772.3" y1="898.4" x2="778.3" y2="898.4"/><line x1="772.3" y1="927.2" x2="778.3" y2="927.2"/><line x1="772.3" y1="956" x2="778.3" y2="956"/><line x1="772.3" y1="984.8" x2="778.3" y2="984.8"/><line x1="772.3" y1="1013.6" x2="778.3" y2="1013.6"/><line x1="772.3" y1="1042.4" x2="778.3" y2="1042.4"/><line x1="772.3" y1="1071.2" x2="778.3" y2="1071.2"/><line x1="772.3" y1="1100" x2="778.3" y2="1100"/><line x1="772.3" y1="1128.8" x2="778.3" y2="1128.8"/><line x1="824.24" y1="1042.4" x2="824.24" y2="1047.9"/><line x1="897.84" y1="1042.4" x2="897.84" y2="1047.9"/><line x1="971.44" y1="1042.4" x2="971.44" y2="1047.9"/><line x1="1045.04" y1="1042.4" x2="1045.04" y2="1047.9"/><line x1="1118.64" y1="1042.4" x2="1118.64" y2="1047.9"/><line x1="1192.24" y1="1042.4" x2="1192.24" y2="1047.9"/><line x1="1265.84" y1="1042.4" x2="1265.84" y2="1047.9"/></g>
<line x1="778.3" y1="1042.4" x2="1311" y2="1042.4" stroke="#111" stroke-width="2.2"/>
<line x1="794.8" y1="972.13" x2="1280.56" y2="1113.25" stroke="#000" stroke-width="2.1"/>
<g font-weight="bold" fill="#111"><text x="739.26" y="848.64" font-size="22.3" textLength="31" lengthAdjust="spacingAndGlyphs">3.5</text><text x="739.6" y="877.44" font-size="22.3" textLength="31" lengthAdjust="spacingAndGlyphs">3.0</text><text x="739.26" y="906.24" font-size="22.3" textLength="31" lengthAdjust="spacingAndGlyphs">2.5</text><text x="739.6" y="935.04" font-size="22.3" textLength="31" lengthAdjust="spacingAndGlyphs">2.0</text><text x="739.26" y="963.84" font-size="22.3" textLength="31" lengthAdjust="spacingAndGlyphs">1.5</text><text x="739.6" y="992.64" font-size="22.3" textLength="31" lengthAdjust="spacingAndGlyphs">1.0</text><text x="739.26" y="1021.44" font-size="22.3" textLength="31" lengthAdjust="spacingAndGlyphs">0.5</text><text x="739.6" y="1050.24" font-size="22.3" textLength="31" lengthAdjust="spacingAndGlyphs">0.0</text><text x="731.83" y="1079.04" font-size="22.3" textLength="38.43" lengthAdjust="spacingAndGlyphs">-0.5</text><text x="732.18" y="1107.84" font-size="22.3" textLength="38.43" lengthAdjust="spacingAndGlyphs">-1.0</text><text x="731.83" y="1136.64" font-size="22.3" textLength="38.43" lengthAdjust="spacingAndGlyphs">-1.5</text><text x="799.13" y="1140.3" font-size="22.2" textLength="49.39" lengthAdjust="spacingAndGlyphs">1985</text><text x="872.9" y="1140.3" font-size="22.2" textLength="49.39" lengthAdjust="spacingAndGlyphs">1990</text><text x="946.33" y="1140.3" font-size="22.2" textLength="49.39" lengthAdjust="spacingAndGlyphs">1995</text><text x="1020.45" y="1140.3" font-size="22.2" textLength="49.39" lengthAdjust="spacingAndGlyphs">2000</text><text x="1093.88" y="1140.3" font-size="22.2" textLength="49.39" lengthAdjust="spacingAndGlyphs">2005</text><text x="1167.65" y="1140.3" font-size="22.2" textLength="49.39" lengthAdjust="spacingAndGlyphs">2010</text><text x="1241.08" y="1140.3" font-size="22.2" textLength="49.39" lengthAdjust="spacingAndGlyphs">2015</text><text x="955.75" y="1174.8" font-size="21.39" textLength="179.75" lengthAdjust="spacingAndGlyphs">Year (1983–2016)</text><text x="872" y="848.2" font-size="20.8" textLength="346.71" lengthAdjust="spacingAndGlyphs">Tepid to cool Sub moist (TN90p )</text><text x="803.33" y="882.04" font-size="36.83" textLength="43.45" lengthAdjust="spacingAndGlyphs" fill="#000">(e)</text></g>
<text transform="translate(725.07 1075.95) rotate(-90)" x="0" y="0" font-size="21.07" font-weight="bold" fill="#111" textLength="192.71" lengthAdjust="spacingAndGlyphs">Standard anomaly</text>
<g fill="#ee0000" stroke="#1a0000" stroke-width="1.1"><rect x="1495.99" y="955.85" width="11.83" height="123.85"/><rect x="1511.45" y="1070.93" width="11.83" height="8.77"/><rect x="1526.91" y="1076.14" width="11.83" height="3.56"/><rect x="1557.83" y="1047.37" width="11.83" height="32.33"/><rect x="1573.29" y="878.04" width="11.83" height="201.66"/><rect x="1588.75" y="1061.62" width="11.83" height="18.08"/><rect x="1604.21" y="1076.14" width="11.83" height="3.56"/><rect x="1619.67" y="1065.45" width="11.83" height="14.25"/><rect x="1635.13" y="1070.93" width="11.83" height="8.77"/><rect x="1650.59" y="1079.7" width="11.83" height="29.59"/><rect x="1666.05" y="1079.7" width="11.83" height="7.67"/><rect x="1681.51" y="1022.16" width="11.83" height="57.54"/><rect x="1696.97" y="1070.93" width="11.83" height="8.77"/><rect x="1712.43" y="1079.7" width="11.83" height="20.82"/><rect x="1727.89" y="1079.7" width="11.83" height="55.9"/><rect x="1743.35" y="1016.68" width="11.83" height="63.02"/><rect x="1758.81" y="1079.7" width="11.83" height="55.9"/><rect x="1774.27" y="1079.7" width="11.83" height="32.88"/><rect x="1789.73" y="1079.7" width="11.83" height="55.9"/><rect x="1805.19" y="1059.97" width="11.83" height="19.73"/><rect x="1820.65" y="1079.7" width="11.83" height="20.82"/><rect x="1836.11" y="1079.7" width="11.83" height="32.88"/><rect x="1851.57" y="1007.91" width="11.83" height="71.79"/><rect x="1867.03" y="1079.7" width="11.83" height="20.82"/><rect x="1882.49" y="1079.7" width="11.83" height="43.29"/><rect x="1897.95" y="1079.7" width="11.83" height="41.65"/><rect x="1913.41" y="1079.7" width="11.83" height="45.48"/><rect x="1928.87" y="1079.7" width="11.83" height="48.77"/><rect x="1944.33" y="1079.7" width="11.83" height="35.62"/><rect x="1959.79" y="1074.22" width="11.83" height="5.48"/><rect x="1975.25" y="1079.7" width="11.83" height="20.82"/><rect x="1990.71" y="1079.7" width="11.83" height="55.9"/><rect x="2006.17" y="1079.7" width="11.83" height="29.59"/></g>
<g stroke="#111" stroke-width="1.7" fill="none"><line x1="1486.1" y1="859.7" x2="1486.1" y2="1162.7"/><line x1="1480.1" y1="860.5" x2="1486.1" y2="860.5"/><line x1="1480.1" y1="887.9" x2="1486.1" y2="887.9"/><line x1="1480.1" y1="915.3" x2="1486.1" y2="915.3"/><line x1="1480.1" y1="942.7" x2="1486.1" y2="942.7"/><line x1="1480.1" y1="970.1" x2="1486.1" y2="970.1"/><line x1="1480.1" y1="997.5" x2="1486.1" y2="997.5"/><line x1="1480.1" y1="1024.9" x2="1486.1" y2="1024.9"/><line x1="1480.1" y1="1052.3" x2="1486.1" y2="1052.3"/><line x1="1480.1" y1="1079.7" x2="1486.1" y2="1079.7"/><line x1="1480.1" y1="1107.1" x2="1486.1" y2="1107.1"/><line x1="1480.1" y1="1134.5" x2="1486.1" y2="1134.5"/><line x1="1480.1" y1="1161.9" x2="1486.1" y2="1161.9"/><line x1="1532.82" y1="1079.7" x2="1532.82" y2="1085.2"/><line x1="1610.12" y1="1079.7" x2="1610.12" y2="1085.2"/><line x1="1687.42" y1="1079.7" x2="1687.42" y2="1085.2"/><line x1="1764.72" y1="1079.7" x2="1764.72" y2="1085.2"/><line x1="1842.02" y1="1079.7" x2="1842.02" y2="1085.2"/><line x1="1919.32" y1="1079.7" x2="1919.32" y2="1085.2"/><line x1="1996.62" y1="1079.7" x2="1996.62" y2="1085.2"/></g>
<line x1="1486.1" y1="1079.7" x2="2044" y2="1079.7" stroke="#111" stroke-width="2.2"/>
<line x1="1501.9" y1="1033.67" x2="2012.08" y2="1127.38" stroke="#000" stroke-width="2.1"/>
<g font-weight="bold" fill="#111"><text x="1447.4" y="868.34" font-size="22.3" textLength="31" lengthAdjust="spacingAndGlyphs">4.0</text><text x="1447.06" y="895.74" font-size="22.3" textLength="31" lengthAdjust="spacingAndGlyphs">3.5</text><text x="1447.4" y="923.14" font-size="22.3" textLength="31" lengthAdjust="spacingAndGlyphs">3.0</text><text x="1447.06" y="950.54" font-size="22.3" textLength="31" lengthAdjust="spacingAndGlyphs">2.5</text><text x="1447.4" y="977.94" font-size="22.3" textLength="31" lengthAdjust="spacingAndGlyphs">2.0</text><text x="1447.06" y="1005.34" font-size="22.3" textLength="31" lengthAdjust="spacingAndGlyphs">1.5</text><text x="1447.4" y="1032.74" font-size="22.3" textLength="31" lengthAdjust="spacingAndGlyphs">1.0</text><text x="1447.06" y="1060.14" font-size="22.3" textLength="31" lengthAdjust="spacingAndGlyphs">0.5</text><text x="1447.4" y="1087.54" font-size="22.3" textLength="31" lengthAdjust="spacingAndGlyphs">0.0</text><text x="1439.63" y="1114.94" font-size="22.3" textLength="38.43" lengthAdjust="spacingAndGlyphs">-0.5</text><text x="1439.98" y="1142.34" font-size="22.3" textLength="38.43" lengthAdjust="spacingAndGlyphs">-1.0</text><text x="1439.63" y="1169.74" font-size="22.3" textLength="38.43" lengthAdjust="spacingAndGlyphs">-1.5</text><text x="1507.71" y="1187" font-size="22.2" textLength="49.39" lengthAdjust="spacingAndGlyphs">1985</text><text x="1585.18" y="1187" font-size="22.2" textLength="49.39" lengthAdjust="spacingAndGlyphs">1990</text><text x="1662.31" y="1187" font-size="22.2" textLength="49.39" lengthAdjust="spacingAndGlyphs">1995</text><text x="1740.13" y="1187" font-size="22.2" textLength="49.39" lengthAdjust="spacingAndGlyphs">2000</text><text x="1817.26" y="1187" font-size="22.2" textLength="49.39" lengthAdjust="spacingAndGlyphs">2005</text><text x="1894.73" y="1187" font-size="22.2" textLength="49.39" lengthAdjust="spacingAndGlyphs">2010</text><text x="1971.86" y="1187" font-size="22.2" textLength="49.39" lengthAdjust="spacingAndGlyphs">2015</text><text x="1669.53" y="1225.9" font-size="22.46" textLength="188.81" lengthAdjust="spacingAndGlyphs">Year (1983–2016)</text><text x="1590.03" y="866.6" font-size="20.8" textLength="348.63" lengthAdjust="spacingAndGlyphs">Hot to warm semi-arid (TN90p )</text><text x="1515.95" y="862.3" font-size="37.04" textLength="33.05" lengthAdjust="spacingAndGlyphs" fill="#000">(f)</text></g>
<text transform="translate(1429.84 1107.36) rotate(-90)" x="0" y="0" font-size="22.11" font-weight="bold" fill="#111" textLength="202.22" lengthAdjust="spacingAndGlyphs">Standard anomaly</text>
<g fill="#0000ee" stroke="#00001a" stroke-width="1.1"><rect x="99.61" y="1438.2" width="11.57" height="61.17"/><rect x="114.74" y="1438.2" width="11.57" height="61.17"/><rect x="129.87" y="1438.2" width="11.57" height="61.17"/><rect x="145" y="1438.2" width="11.57" height="61.17"/><rect x="160.13" y="1438.2" width="11.57" height="52.33"/><rect x="175.26" y="1438.2" width="11.57" height="55.28"/><rect x="190.39" y="1438.2" width="11.57" height="61.17"/><rect x="205.52" y="1438.2" width="11.57" height="58.22"/><rect x="220.65" y="1438.2" width="11.57" height="58.96"/><rect x="235.78" y="1438.2" width="11.57" height="57.49"/><rect x="250.91" y="1438.2" width="11.57" height="50.12"/><rect x="266.04" y="1438.2" width="11.57" height="55.28"/><rect x="281.17" y="1438.2" width="11.57" height="53.8"/><rect x="296.3" y="1438.2" width="11.57" height="55.28"/><rect x="311.43" y="1438.2" width="11.57" height="52.33"/><rect x="326.56" y="1438.2" width="11.57" height="46.43"/><rect x="341.69" y="1438.2" width="11.57" height="50.12"/><rect x="356.82" y="1438.2" width="11.57" height="23.58"/><rect x="371.95" y="1438.2" width="11.57" height="61.17"/><rect x="387.08" y="1438.2" width="11.57" height="25.06"/><rect x="402.21" y="1378.5" width="11.57" height="59.7"/><rect x="417.34" y="1438.2" width="11.57" height="19.9"/><rect x="432.47" y="1416.83" width="11.57" height="21.37"/><rect x="447.6" y="1413.88" width="11.57" height="24.32"/><rect x="462.73" y="1379.98" width="11.57" height="58.22"/><rect x="477.86" y="1364.5" width="11.57" height="73.7"/><rect x="492.99" y="1276.06" width="11.57" height="162.14"/><rect x="508.12" y="1338.7" width="11.57" height="99.5"/><rect x="523.25" y="1362.29" width="11.57" height="75.91"/><rect x="538.38" y="1371.13" width="11.57" height="67.07"/><rect x="553.51" y="1273.85" width="11.57" height="164.35"/><rect x="568.64" y="1313.65" width="11.57" height="124.55"/><rect x="583.77" y="1347.55" width="11.57" height="90.65"/><rect x="598.9" y="1358.6" width="11.57" height="79.6"/></g>
<g stroke="#111" stroke-width="1.7" fill="none"><line x1="90.8" y1="1253.15" x2="90.8" y2="1549.55"/><line x1="84.8" y1="1253.95" x2="90.8" y2="1253.95"/><line x1="84.8" y1="1290.8" x2="90.8" y2="1290.8"/><line x1="84.8" y1="1327.65" x2="90.8" y2="1327.65"/><line x1="84.8" y1="1364.5" x2="90.8" y2="1364.5"/><line x1="84.8" y1="1401.35" x2="90.8" y2="1401.35"/><line x1="84.8" y1="1438.2" x2="90.8" y2="1438.2"/><line x1="84.8" y1="1475.05" x2="90.8" y2="1475.05"/><line x1="84.8" y1="1511.9" x2="90.8" y2="1511.9"/><line x1="84.8" y1="1548.75" x2="90.8" y2="1548.75"/><line x1="135.66" y1="1438.2" x2="135.66" y2="1443.7"/><line x1="211.31" y1="1438.2" x2="211.31" y2="1443.7"/><line x1="286.96" y1="1438.2" x2="286.96" y2="1443.7"/><line x1="362.61" y1="1438.2" x2="362.61" y2="1443.7"/><line x1="438.26" y1="1438.2" x2="438.26" y2="1443.7"/><line x1="513.91" y1="1438.2" x2="513.91" y2="1443.7"/><line x1="589.56" y1="1438.2" x2="589.56" y2="1443.7"/></g>
<line x1="90.8" y1="1438.2" x2="635.7" y2="1438.2" stroke="#111" stroke-width="2.2"/>
<line x1="105.4" y1="1542.85" x2="604.69" y2="1332.81" stroke="#000" stroke-width="2.1"/>
<g font-weight="bold" fill="#111"><text x="51.76" y="1261.79" font-size="22.3" textLength="31" lengthAdjust="spacingAndGlyphs">2.5</text><text x="52.1" y="1298.64" font-size="22.3" textLength="31" lengthAdjust="spacingAndGlyphs">2.0</text><text x="51.76" y="1335.49" font-size="22.3" textLength="31" lengthAdjust="spacingAndGlyphs">1.5</text><text x="52.1" y="1372.34" font-size="22.3" textLength="31" lengthAdjust="spacingAndGlyphs">1.0</text><text x="51.76" y="1409.19" font-size="22.3" textLength="31" lengthAdjust="spacingAndGlyphs">0.5</text><text x="52.1" y="1446.04" font-size="22.3" textLength="31" lengthAdjust="spacingAndGlyphs">0.0</text><text x="44.33" y="1482.89" font-size="22.3" textLength="38.43" lengthAdjust="spacingAndGlyphs">-0.5</text><text x="44.68" y="1519.74" font-size="22.3" textLength="38.43" lengthAdjust="spacingAndGlyphs">-1.0</text><text x="44.33" y="1556.59" font-size="22.3" textLength="38.43" lengthAdjust="spacingAndGlyphs">-1.5</text><text x="110.55" y="1570.5" font-size="22.2" textLength="49.39" lengthAdjust="spacingAndGlyphs">1985</text><text x="186.37" y="1570.5" font-size="22.2" textLength="49.39" lengthAdjust="spacingAndGlyphs">1990</text><text x="261.85" y="1570.5" font-size="22.2" textLength="49.39" lengthAdjust="spacingAndGlyphs">1995</text><text x="338.02" y="1570.5" font-size="22.2" textLength="49.39" lengthAdjust="spacingAndGlyphs">2000</text><text x="413.5" y="1570.5" font-size="22.2" textLength="49.39" lengthAdjust="spacingAndGlyphs">2005</text><text x="489.32" y="1570.5" font-size="22.2" textLength="49.39" lengthAdjust="spacingAndGlyphs">2010</text><text x="564.8" y="1570.5" font-size="22.2" textLength="49.39" lengthAdjust="spacingAndGlyphs">2015</text><text x="269.94" y="1609.3" font-size="21.97" textLength="184.69" lengthAdjust="spacingAndGlyphs">Year (1983–2016)</text><text x="226.37" y="1263.8" font-size="20.8" textLength="272.26" lengthAdjust="spacingAndGlyphs">Hot to warm arid (TX90P)</text><text x="105.19" y="1279.69" font-size="35.25" textLength="30.48" lengthAdjust="spacingAndGlyphs" fill="#000">(j)</text></g>
<text transform="translate(36 1493.55) rotate(-90)" x="0" y="0" font-size="21.52" font-weight="bold" fill="#111" textLength="196.81" lengthAdjust="spacingAndGlyphs">Standard anomaly</text>
<g fill="#0000ee" stroke="#00001a" stroke-width="1.1"><rect x="789.1" y="1446.8" width="11.8" height="40.38"/><rect x="804.52" y="1446.8" width="11.8" height="40.38"/><rect x="819.94" y="1446.8" width="11.8" height="40.38"/><rect x="835.36" y="1446.8" width="11.8" height="40.38"/><rect x="850.78" y="1446.8" width="11.8" height="40.38"/><rect x="866.2" y="1446.8" width="11.8" height="37.97"/><rect x="881.62" y="1446.8" width="11.8" height="40.38"/><rect x="897.04" y="1446.8" width="11.8" height="40.38"/><rect x="912.46" y="1446.8" width="11.8" height="40.38"/><rect x="927.88" y="1446.8" width="11.8" height="40.38"/><rect x="943.3" y="1446.8" width="11.8" height="40.38"/><rect x="958.72" y="1446.8" width="11.8" height="40.38"/><rect x="974.14" y="1446.8" width="11.8" height="34.35"/><rect x="989.56" y="1446.8" width="11.8" height="40.38"/><rect x="1004.98" y="1446.8" width="11.8" height="37.97"/><rect x="1020.4" y="1446.8" width="11.8" height="36.76"/><rect x="1035.82" y="1446.8" width="11.8" height="34.35"/><rect x="1051.24" y="1446.8" width="11.8" height="40.38"/><rect x="1066.66" y="1446.8" width="11.8" height="2.41"/><rect x="1082.08" y="1446.8" width="11.8" height="32.55"/><rect x="1097.5" y="1423.29" width="11.8" height="23.51"/><rect x="1112.92" y="1422.09" width="11.8" height="24.71"/><rect x="1128.34" y="1444.99" width="11.8" height="1.81"/><rect x="1143.76" y="1399.79" width="11.8" height="47.01"/><rect x="1159.18" y="1405.21" width="11.8" height="41.59"/><rect x="1174.6" y="1437.16" width="11.8" height="9.64"/><rect x="1190.02" y="1399.79" width="11.8" height="47.01"/><rect x="1205.44" y="1441.38" width="11.8" height="5.42"/><rect x="1220.86" y="1446.8" width="11.8" height="7.23"/><rect x="1236.28" y="1432.34" width="11.8" height="14.46"/><rect x="1251.7" y="1360.61" width="11.8" height="86.19"/><rect x="1267.12" y="1303.36" width="11.8" height="143.44"/><rect x="1282.54" y="1311.8" width="11.8" height="135"/><rect x="1297.96" y="1261.17" width="11.8" height="185.63"/></g>
<g stroke="#111" stroke-width="1.7" fill="none"><line x1="780.6" y1="1235.06" x2="780.6" y2="1538"/><line x1="774.6" y1="1235.86" x2="780.6" y2="1235.86"/><line x1="774.6" y1="1265.99" x2="780.6" y2="1265.99"/><line x1="774.6" y1="1296.12" x2="780.6" y2="1296.12"/><line x1="774.6" y1="1326.26" x2="780.6" y2="1326.26"/><line x1="774.6" y1="1356.39" x2="780.6" y2="1356.39"/><line x1="774.6" y1="1386.53" x2="780.6" y2="1386.53"/><line x1="774.6" y1="1416.66" x2="780.6" y2="1416.66"/><line x1="774.6" y1="1446.8" x2="780.6" y2="1446.8"/><line x1="774.6" y1="1476.93" x2="780.6" y2="1476.93"/><line x1="774.6" y1="1507.07" x2="780.6" y2="1507.07"/><line x1="774.6" y1="1537.2" x2="780.6" y2="1537.2"/><line x1="825.84" y1="1446.8" x2="825.84" y2="1452.3"/><line x1="902.94" y1="1446.8" x2="902.94" y2="1452.3"/><line x1="980.04" y1="1446.8" x2="980.04" y2="1452.3"/><line x1="1057.14" y1="1446.8" x2="1057.14" y2="1452.3"/><line x1="1134.24" y1="1446.8" x2="1134.24" y2="1452.3"/><line x1="1211.34" y1="1446.8" x2="1211.34" y2="1452.3"/><line x1="1288.44" y1="1446.8" x2="1288.44" y2="1452.3"/></g>
<line x1="780.6" y1="1446.8" x2="1335.4" y2="1446.8" stroke="#111" stroke-width="2.2"/>
<line x1="795" y1="1525.15" x2="1303.86" y2="1366.64" stroke="#000" stroke-width="2.1"/>
<g font-weight="bold" fill="#111"><text x="741.56" y="1243.69" font-size="22.3" textLength="31" lengthAdjust="spacingAndGlyphs">3.5</text><text x="741.9" y="1273.83" font-size="22.3" textLength="31" lengthAdjust="spacingAndGlyphs">3.0</text><text x="741.56" y="1303.96" font-size="22.3" textLength="31" lengthAdjust="spacingAndGlyphs">2.5</text><text x="741.9" y="1334.1" font-size="22.3" textLength="31" lengthAdjust="spacingAndGlyphs">2.0</text><text x="741.56" y="1364.23" font-size="22.3" textLength="31" lengthAdjust="spacingAndGlyphs">1.5</text><text x="741.9" y="1394.37" font-size="22.3" textLength="31" lengthAdjust="spacingAndGlyphs">1.0</text><text x="741.56" y="1424.5" font-size="22.3" textLength="31" lengthAdjust="spacingAndGlyphs">0.5</text><text x="741.9" y="1454.64" font-size="22.3" textLength="31" lengthAdjust="spacingAndGlyphs">0.0</text><text x="734.13" y="1484.77" font-size="22.3" textLength="38.43" lengthAdjust="spacingAndGlyphs">-0.5</text><text x="734.48" y="1514.91" font-size="22.3" textLength="38.43" lengthAdjust="spacingAndGlyphs">-1.0</text><text x="734.13" y="1545.04" font-size="22.3" textLength="38.43" lengthAdjust="spacingAndGlyphs">-1.5</text><text x="800.73" y="1559.3" font-size="22.2" textLength="49.39" lengthAdjust="spacingAndGlyphs">1985</text><text x="878" y="1559.3" font-size="22.2" textLength="49.39" lengthAdjust="spacingAndGlyphs">1990</text><text x="954.93" y="1559.3" font-size="22.2" textLength="49.39" lengthAdjust="spacingAndGlyphs">1995</text><text x="1032.55" y="1559.3" font-size="22.2" textLength="49.39" lengthAdjust="spacingAndGlyphs">2000</text><text x="1109.48" y="1559.3" font-size="22.2" textLength="49.39" lengthAdjust="spacingAndGlyphs">2005</text><text x="1186.75" y="1559.3" font-size="22.2" textLength="49.39" lengthAdjust="spacingAndGlyphs">2010</text><text x="1263.68" y="1559.3" font-size="22.2" textLength="49.39" lengthAdjust="spacingAndGlyphs">2015</text><text x="963.04" y="1600.4" font-size="22.34" textLength="187.81" lengthAdjust="spacingAndGlyphs">Year (1983–2016)</text><text x="880.7" y="1261.8" font-size="20.8" textLength="353.54" lengthAdjust="spacingAndGlyphs">Tepid to cool Sub moist (TX90P)</text><text x="803.75" y="1279.78" font-size="34.83" textLength="43.02" lengthAdjust="spacingAndGlyphs" fill="#000">(k)</text></g>
<text transform="translate(722.65 1481.06) rotate(-90)" x="0" y="0" font-size="22.13" font-weight="bold" fill="#111" textLength="202.42" lengthAdjust="spacingAndGlyphs">Standard anomaly</text>
<g fill="#0000ee" stroke="#00001a" stroke-width="1.1"><rect x="1496.42" y="1446.9" width="11.36" height="56.01"/><rect x="1511.27" y="1445.45" width="11.36" height="1.45"/><rect x="1526.12" y="1446.9" width="11.36" height="43.64"/><rect x="1540.97" y="1446.9" width="11.36" height="68.38"/><rect x="1555.82" y="1446.9" width="11.36" height="59.65"/><rect x="1570.67" y="1446.9" width="11.36" height="30.55"/><rect x="1585.52" y="1446.9" width="11.36" height="69.83"/><rect x="1600.37" y="1446.9" width="11.36" height="62.56"/><rect x="1615.22" y="1446.9" width="11.36" height="64.74"/><rect x="1630.07" y="1446.9" width="11.36" height="72.74"/><rect x="1644.92" y="1446.9" width="11.36" height="66.92"/><rect x="1659.77" y="1446.9" width="11.36" height="69.83"/><rect x="1674.62" y="1446.9" width="11.36" height="45.1"/><rect x="1689.47" y="1446.9" width="11.36" height="68.38"/><rect x="1704.32" y="1446.9" width="11.36" height="48.74"/><rect x="1719.17" y="1446.9" width="11.36" height="43.64"/><rect x="1734.02" y="1446.9" width="11.36" height="30.55"/><rect x="1748.87" y="1446.9" width="11.36" height="52.37"/><rect x="1763.72" y="1446.9" width="11.36" height="54.56"/><rect x="1778.57" y="1446.9" width="11.36" height="12.37"/><rect x="1793.42" y="1297.06" width="11.36" height="149.84"/><rect x="1808.27" y="1398.16" width="11.36" height="48.74"/><rect x="1823.12" y="1442.9" width="11.36" height="4"/><rect x="1837.97" y="1329.79" width="11.36" height="117.11"/><rect x="1852.82" y="1419.99" width="11.36" height="26.91"/><rect x="1867.67" y="1385.8" width="11.36" height="61.1"/><rect x="1882.52" y="1282.51" width="11.36" height="164.39"/><rect x="1897.37" y="1378.52" width="11.36" height="68.38"/><rect x="1912.22" y="1435.99" width="11.36" height="10.91"/><rect x="1927.07" y="1389.44" width="11.36" height="57.46"/><rect x="1941.92" y="1293.42" width="11.36" height="153.48"/><rect x="1956.77" y="1395.98" width="11.36" height="50.92"/><rect x="1971.62" y="1374.89" width="11.36" height="72.01"/><rect x="1986.47" y="1398.16" width="11.36" height="48.74"/></g>
<g stroke="#111" stroke-width="1.7" fill="none"><line x1="1486.1" y1="1264.25" x2="1486.1" y2="1556.81"/><line x1="1480.1" y1="1265.05" x2="1486.1" y2="1265.05"/><line x1="1480.1" y1="1301.42" x2="1486.1" y2="1301.42"/><line x1="1480.1" y1="1337.79" x2="1486.1" y2="1337.79"/><line x1="1480.1" y1="1374.16" x2="1486.1" y2="1374.16"/><line x1="1480.1" y1="1410.53" x2="1486.1" y2="1410.53"/><line x1="1480.1" y1="1446.9" x2="1486.1" y2="1446.9"/><line x1="1480.1" y1="1483.27" x2="1486.1" y2="1483.27"/><line x1="1480.1" y1="1519.64" x2="1486.1" y2="1519.64"/><line x1="1480.1" y1="1556.01" x2="1486.1" y2="1556.01"/><line x1="1531.8" y1="1446.9" x2="1531.8" y2="1452.4"/><line x1="1606.05" y1="1446.9" x2="1606.05" y2="1452.4"/><line x1="1680.3" y1="1446.9" x2="1680.3" y2="1452.4"/><line x1="1754.55" y1="1446.9" x2="1754.55" y2="1452.4"/><line x1="1828.8" y1="1446.9" x2="1828.8" y2="1452.4"/><line x1="1903.05" y1="1446.9" x2="1903.05" y2="1452.4"/><line x1="1977.3" y1="1446.9" x2="1977.3" y2="1452.4"/></g>
<line x1="1486.1" y1="1446.9" x2="2023.3" y2="1446.9" stroke="#111" stroke-width="2.2"/>
<line x1="1502.1" y1="1534.19" x2="1992.15" y2="1358.16" stroke="#000" stroke-width="2.1"/>
<g font-weight="bold" fill="#111"><text x="1447.06" y="1272.89" font-size="22.3" textLength="31" lengthAdjust="spacingAndGlyphs">2.5</text><text x="1447.4" y="1309.26" font-size="22.3" textLength="31" lengthAdjust="spacingAndGlyphs">2.0</text><text x="1447.06" y="1345.63" font-size="22.3" textLength="31" lengthAdjust="spacingAndGlyphs">1.5</text><text x="1447.4" y="1382" font-size="22.3" textLength="31" lengthAdjust="spacingAndGlyphs">1.0</text><text x="1447.06" y="1418.37" font-size="22.3" textLength="31" lengthAdjust="spacingAndGlyphs">0.5</text><text x="1447.4" y="1454.74" font-size="22.3" textLength="31" lengthAdjust="spacingAndGlyphs">0.0</text><text x="1439.63" y="1491.11" font-size="22.3" textLength="38.43" lengthAdjust="spacingAndGlyphs">-0.5</text><text x="1439.98" y="1527.48" font-size="22.3" textLength="38.43" lengthAdjust="spacingAndGlyphs">-1.0</text><text x="1439.63" y="1563.85" font-size="22.3" textLength="38.43" lengthAdjust="spacingAndGlyphs">-1.5</text><text x="1506.69" y="1575.3" font-size="22.2" textLength="49.39" lengthAdjust="spacingAndGlyphs">1985</text><text x="1581.11" y="1575.3" font-size="22.2" textLength="49.39" lengthAdjust="spacingAndGlyphs">1990</text><text x="1655.19" y="1575.3" font-size="22.2" textLength="49.39" lengthAdjust="spacingAndGlyphs">1995</text><text x="1729.96" y="1575.3" font-size="22.2" textLength="49.39" lengthAdjust="spacingAndGlyphs">2000</text><text x="1804.04" y="1575.3" font-size="22.2" textLength="49.39" lengthAdjust="spacingAndGlyphs">2005</text><text x="1878.46" y="1575.3" font-size="22.2" textLength="49.39" lengthAdjust="spacingAndGlyphs">2010</text><text x="1952.54" y="1575.3" font-size="22.2" textLength="49.39" lengthAdjust="spacingAndGlyphs">2015</text><text x="1663.35" y="1609.3" font-size="21.56" textLength="181.26" lengthAdjust="spacingAndGlyphs">Year (1983–2016)</text><text x="1589.58" y="1271.6" font-size="20.8" textLength="330.15" lengthAdjust="spacingAndGlyphs">Hot to warm semi-arid (TX90P)</text><text x="1515.53" y="1279.73" font-size="35.04" textLength="31.58" lengthAdjust="spacingAndGlyphs" fill="#000">(l)</text></g>
<text transform="translate(1431.04 1502.36) rotate(-90)" x="0" y="0" font-size="21.56" font-weight="bold" fill="#111" textLength="197.21" lengthAdjust="spacingAndGlyphs">Standard anomaly</text></svg>
</body></html>
